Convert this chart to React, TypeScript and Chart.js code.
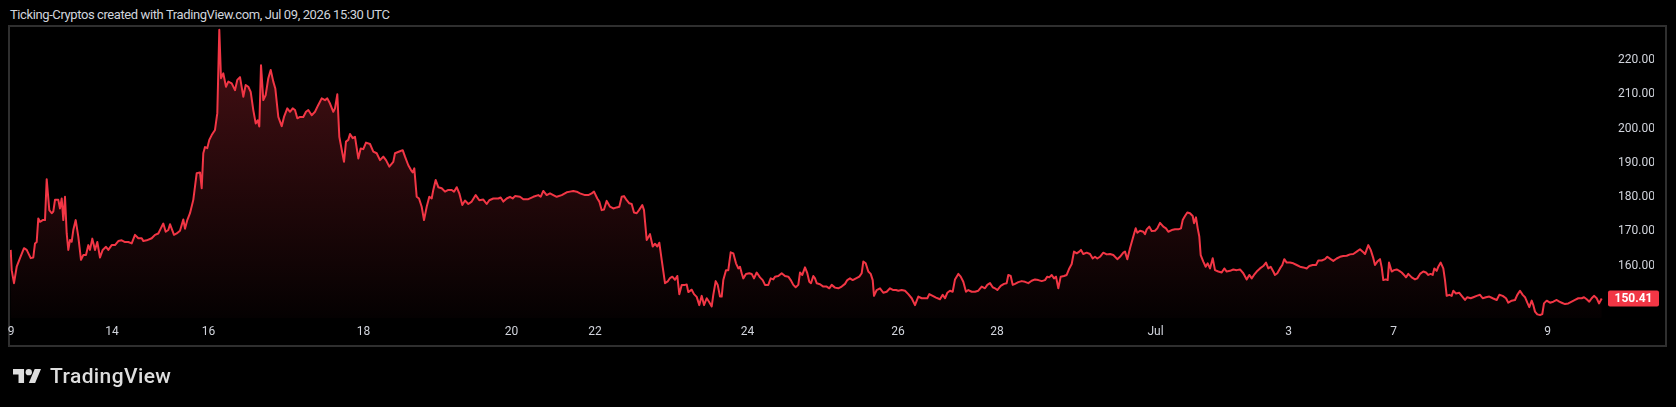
import React, { useEffect, useRef } from "react";
import { Chart, registerables } from "chart.js";

Chart.register(...registerables);

// Bar positions along the session axis and closing prices.
const bars: number[] = [
  // 9 .. 18
  0.7, 1.7, 4, 6.7, 10, 14, 16.7, 20.7, 23.3, 25,
  26.7, 28.3, 30, 32.7, 35, 36.7, 39.3, 41.7, 43.3, 45,
  48.3, 50, 51.7, 53.3, 55, 56.7, 58.3, 60, 61.7, 63.3,
  65.7, 68.3, 71, 73.3, 76, 78.3, 80, 82.3, 85, 87.3,
  90, 92.7, 96, 98.3, 101.7, 105, 108.3, 111.7, 115, 118.3,
  121.7, 125, 128.3, 131.7, 133.3, 136.7, 141.7, 145, 148.3, 150.7,
  153.3, 155.7, 158.3, 160, 164, 166.7, 170, 173.3, 175, 177.3,
  180, 183.3, 186.7, 190, 191.7, 193.3, 195, 197.3, 199.3, 201.7,
  205, 207.3, 209.3, 211, 213.3, 216, 218.3, 221.7, 225, 227.3,
  230, 233.3, 235.7, 238.3, 240.7, 243.3, 245.7, 247.7, 249.3, 251,
  253.3, 255.7, 258.3, 260.7, 263.3, 265.3, 268.3, 271.7, 274, 277.3,
  280, 282.7, 285, 287.3, 290, 293.3, 296, 298.3, 301.7, 305,
  308.3, 311.7, 315, 317.3, 320, 323.3, 325, 327.3, 329.3,
  // 18 .. 24
  334, 336, 338.3, 340, 342.7, 345, 348.3, 350.7, 353.3, 356,
  360, 363.3, 366.7, 370, 373.3, 376, 379.3, 383.3, 385, 389.3,
  392.7, 395, 398.3, 401, 402.7, 404.3, 406.7, 409, 411.7, 414,
  416.7, 419.3, 421.7, 423.3, 425.7, 428.3, 431.7, 435, 438.3, 441.7,
  444, 446.7, 449.3, 452.3, 455, 458.3, 461.7, 465.7, 469.3, 473.3,
  476.7, 479.3, 483.3, 488.3, 490.7, 493.3, 496.7, 500, 502.7, 505,
  510, 513.3, 518.3, 523.3, 528.3, 530.7, 533.3, 536.7, 540, 543.3,
  546.7, 551.7, 556.7, 560, 563.3, 566.7, 570, 575, 578.3, 581.7,
  584, 587.3, 589.3, 591.7, 594, 596.7, 600, 603.3, 606.7, 609.3,
  611.7, 614, 616.7, 619.3, 621.7, 624, 626.7, 629, 632.3, 634,
  636.7, 640, 642.7, 645, 647.3, 649.3, 651.7, 655, 657.7, 660,
  662.3, 665, 667.3, 669.3, 671.7, 675, 676.7, 678.3, 681.7, 684,
  686.7, 689.3,
  // 24 .. Jul
  691.7, 694, 696.7, 699, 701.7, 703.3, 705.7, 707.7, 710, 711.7,
  713.3, 716, 718.3, 720.7, 723.3, 726, 728.3, 730, 731.7, 733.3,
  736, 739.3, 741.7, 744, 746.7, 750, 752.7, 755, 758.3, 760.7,
  763.3, 765, 768.3, 771.7, 775, 778.3, 780.7, 783.3, 785.7, 788.3,
  790, 792.3, 795, 797.3, 799.3, 801, 803.3, 805, 806.7, 810,
  813.3, 816.7, 819.3, 821.7, 825, 828.3, 831.7, 835, 837.3, 840,
  842.7, 846, 849.3, 851.7, 853.3, 855.7, 858.3, 860.7, 862.7, 864,
  866.7, 870, 873.3, 876.7, 880, 883.3, 886, 888.3, 891.7, 895,
  898.3, 901.7, 905, 908.3, 911.7, 915, 917.3, 919.3, 922.7, 926,
  930, 932.7, 935, 937.3, 940, 942.7, 945, 948.3, 950.7, 953.3,
  956, 958.3, 961.7, 965, 968.3, 971.7, 975, 977.3, 980, 982.7,
  985, 987.3, 990.7, 994, 996.7, 998.3, 1000.7, 1002.7, 1005, 1008.3,
  1011.7, 1015, 1018.3, 1021.7, 1025, 1028.3, 1031.7, 1035, 1037.3,
  // Jul .. 7
  1039.3, 1041.7, 1044, 1046, 1048.3, 1050.7, 1054, 1056.7, 1059.3, 1061.7,
  1064, 1066.7, 1069.3, 1071, 1073.3, 1076.7, 1080, 1082.7, 1085, 1087.3,
  1090, 1093.3, 1096.7, 1100, 1103.3, 1107.3, 1110, 1113.3, 1115, 1117.3,
  1120, 1123.3, 1125.7, 1127.3, 1130, 1133.3, 1135, 1136.7, 1139.3, 1141.7,
  1145, 1147.3, 1150, 1153.3, 1156, 1158.3, 1161.7, 1165, 1168.3, 1171,
  1172.7, 1175, 1177.3, 1180, 1182.7, 1184, 1186, 1187.7, 1189.3, 1190.7,
  1193.3, 1195.7, 1197.7, 1200, 1202.7, 1205, 1208.3, 1211.7, 1214.3, 1216.7,
  1220, 1223.3, 1226.7, 1230, 1233.3, 1236.7, 1239.3, 1241.7, 1244, 1246.7,
  1250, 1253.3, 1256, 1258.3, 1260.7, 1263.3, 1265, 1267.3, 1270, 1272.3,
  1274.3, 1276.7, 1280, 1283.3, 1286.7, 1290, 1293.3, 1296.7, 1299.3, 1302.7,
  1306, 1308.3, 1311.7, 1315, 1317.3, 1320.7, 1323.3, 1326.7, 1330, 1333.3,
  1336.7, 1340, 1343.3, 1346.7, 1350, 1352.7, 1355, 1358.3, 1360.7, 1363.3,
  1365, 1367.3, 1370, 1371.7, 1373.3, 1375.7, 1377.7,
  // 7 .. end
  1379, 1381.7, 1384, 1386.7, 1389.3, 1391.7, 1394, 1396, 1398.3, 1401.7,
  1405, 1407.3, 1410, 1413.3, 1416, 1418.3, 1420.7, 1422.7, 1424.3, 1426.7,
  1428.3, 1430.7, 1433.3, 1435, 1436.7, 1439.3, 1441.7, 1443.3, 1446, 1449.3,
  1451.7, 1455, 1457.3, 1460.7, 1463.3, 1466.7, 1470, 1472.7, 1476, 1479.3,
  1482.7, 1486.7, 1489.3, 1492.7, 1496, 1498.3, 1501.7, 1505, 1507.3, 1510,
  1512.7, 1515, 1517.3, 1519.3, 1521.7, 1523.3, 1525, 1527.3, 1530, 1532.3,
  1534, 1536.7, 1540, 1543.3, 1546.7, 1549.3, 1551.7, 1555, 1558.3, 1561.7,
  1565, 1568.3, 1571.7, 1574, 1576.7, 1579.3, 1581.7, 1584, 1586.7, 1589, 1591.7,
];

const prices: number[] = [
  // 9 .. 18
  164.6, 158.7, 154.9, 159.7, 162.2, 165.1, 164.6, 162.2, 162.4, 166.5,
  166.9, 173.8, 172.8, 173.3, 173.3, 185.2, 176.2, 175.3, 175.8, 179.2,
  179.2, 176.7, 179.6, 173.3, 180.1, 169.4, 164.6, 167.5, 167, 170.4,
  173.3, 168.5, 161.7, 163.1, 163.1, 166, 164.6, 167.9, 164.6, 166.9,
  162.4, 164.6, 165.5, 164.6, 166, 166, 167.2, 167.4, 166.9, 166.9,
  166.5, 169, 168, 168, 167.2, 167.4, 168, 169, 169.4, 170.8,
  172.3, 169.9, 170.4, 172.1, 169, 169.4, 170.2, 173.5, 170.8, 173.3,
  175.3, 179.2, 187, 187.2, 182.6, 192.8, 194.6, 194.3, 196.7, 198.1,
  199.6, 204.5, 228.8, 214.7, 216.1, 212.2, 213.7, 213.2, 211.2, 214.2,
  215, 209.3, 212.7, 212.2, 210.7, 205.4, 201.5, 202.4, 200.6, 218.5,
  208.3, 209.8, 214.7, 217.1, 213.7, 211.7, 203.4, 200.7, 203.4, 205.9,
  204.9, 205.9, 205.4, 203, 203.4, 203.4, 204.9, 205.4, 203.9, 204.9,
  206.9, 208.8, 208.3, 208.8, 207.3, 204.9, 205.9, 210, 197.6,
  // 18 .. 24
  190.3, 196.2, 196.7, 198.4, 197.2, 197.6, 191.3, 194.2, 194, 195.9,
  195.5, 193.3, 192.8, 190.8, 191.8, 190.8, 188.9, 190.3, 192.8, 193.3,
  193.7, 191.8, 189.3, 187.9, 187.2, 188.4, 180.1, 179.6, 177.2, 173.3,
  177.2, 180.1, 179.6, 182.1, 185, 182.9, 182.6, 181.6, 182.1, 182.1,
  181.6, 182.9, 181.1, 177.7, 179, 178, 178.7, 180.6, 179.1, 179.3,
  178, 179.1, 179.6, 179.6, 179.9, 178.7, 179.6, 180.1, 179.6, 180.3,
  180.1, 179.4, 179.4, 180.1, 180.6, 180.1, 181.8, 180.6, 181.1, 180.6,
  180.1, 180.6, 181.4, 181.6, 181.8, 181.6, 181.1, 180.6, 180.6, 181.1,
  181.6, 179.6, 178.7, 176.2, 176.4, 178.9, 177.2, 176.7, 177, 177.2,
  180.1, 180.3, 179.1, 178.2, 178, 175.5, 175.3, 176.2, 177.7, 176.2,
  167.5, 169.2, 165.6, 166.4, 165.6, 166.7, 161.7, 154.9, 155.4, 156.4,
  156.8, 155.9, 157, 151.7, 154.4, 154.4, 154.5, 152.3, 153, 151.7,
  150.9, 148.5,
  // 24 .. Jul
  151.2, 148.5, 150.5, 149.5, 148.1, 151.5, 155.5, 154.4, 151, 151,
  155.8, 158.7, 158.7, 163.9, 163.6, 160.7, 159.2, 159.7, 157.8, 156.3,
  157.6, 157.8, 157.6, 156.3, 158, 156.6, 155.8, 154.4, 154.4, 156.3,
  156, 156.8, 157, 157.8, 157, 156.8, 155.8, 154.4, 153.7, 154.4,
  158, 157.3, 159.5, 157.8, 155.3, 154.9, 157, 156.3, 154.9, 154.6,
  153.9, 153.9, 153.4, 154.4, 153.6, 153.4, 153.9, 154.7, 155.8, 156.3,
  155.8, 156.3, 156.8, 157.8, 161.2, 160.7, 158.3, 157.6, 155.8, 151.2,
  152.9, 153.4, 152.1, 152.4, 153.4, 152.9, 152.9, 152.7, 152.9, 152.7,
  151.7, 150.5, 148.5, 151, 150.5, 150.5, 150.5, 151.7, 151.2, 150.7,
  150.2, 151.5, 150.5, 152.1, 152.7, 152.4, 156, 157.6, 156.8, 155.3,
  152.4, 152.9, 152.4, 152.4, 152.7, 153.9, 153.4, 154.4, 154.9, 153.7,
  153.4, 152.9, 154.1, 154.7, 154.9, 157.3, 157, 154.4, 154.7, 155.2,
  155.5, 155.3, 154.9, 155.6, 156, 155.8, 155.5, 155.8, 156.8,
  // Jul .. 7
  156.6, 157.3, 156.3, 156.8, 153.4, 156.8, 157, 157.3, 159.2, 160.5,
  164.1, 163.6, 164.1, 164.6, 163.4, 163.8, 163.4, 162.1, 162.6, 162.1,
  162.6, 163.8, 163.3, 163.4, 163.1, 161.9, 162.6, 163.8, 164.1, 161.9,
  165.1, 168.5, 170.9, 169.6, 170.2, 169.9, 169.2, 170.6, 171.4, 170.1,
  170.2, 170.9, 172.5, 171.4, 170.9, 169.9, 170.4, 170.6, 170.6, 170.9,
  173.3, 174.5, 175.5, 175.3, 174.5, 172.4, 174.1, 170.9, 168.5, 163.1,
  161.2, 159.7, 160.7, 159.2, 162.2, 158.7, 158.3, 158, 159.2, 158.3,
  158.5, 158.9, 158.7, 158.9, 157.8, 156, 157.3, 156.3, 157.3, 158.3,
  159.2, 159.9, 160.9, 159.2, 159.7, 158.3, 157.3, 157.8, 159.2, 160.2,
  161.9, 160.9, 160.9, 160.7, 160.2, 159.7, 159.5, 159.2, 159.9, 160.2,
  160.2, 161.5, 161.5, 161.9, 162.6, 161.9, 161.4, 162.1, 162.6, 162.8,
  162.9, 163.3, 163.4, 164.1, 164.8, 164.1, 163.4, 166, 164.6, 162.2,
  160.2, 161.2, 161.9, 159.5, 155.8, 156, 155.8,
  // 7 .. end
  160.9, 158.3, 158.7, 158.9, 158.5, 158, 157.3, 156.6, 157.6, 156.6,
  156, 156.3, 157.6, 158.3, 158, 157.3, 157.6, 157.3, 159.2, 158.5,
  159.7, 160.9, 159.2, 155.8, 151.2, 151.5, 151.2, 152.7, 151.9, 152.1,
  151.2, 150, 150.8, 150.5, 150.8, 151.2, 151.5, 150.5, 150.8, 151,
  150.5, 150, 151.5, 151.2, 150.5, 149.2, 149.8, 150, 151.5, 152.7,
  151.5, 150.8, 149.2, 147.9, 149.8, 148.5, 146.6, 145.8, 145.6, 145.9,
  149, 149.8, 149.2, 149.5, 150, 149.5, 149.2, 148.8, 149, 149.5,
  150, 150.5, 150.5, 150.8, 150.2, 149.5, 150.5, 151.2, 150.5, 149, 150.41,
];

// Time-scale labels and the bar positions where they sit.
const timeTickBars: number[] = [1, 102, 198.5, 353.5, 501.5, 585, 737.5, 888, 987, 1145.5, 1278.5, 1383.5, 1537.5];
const timeTickLabels: string[] = ["9", "14", "16", "18", "20", "22", "24", "26", "28", "Jul", "3", "7", "9"];

// Price-scale labels.
const priceTicks: number[] = [160, 170, 180, 190, 200, 210, 220];
const priceMin = 144.74;
const priceMax = 229.63;
const barMin = 0;
const barMax = 1597;

const TITLE = "Ticking-Cryptos created with TradingView.com, Jul 09, 2026 15:30 UTC";
const RED = "#f23645";
const LABEL = "#d1d4dc";

export default function App() {
  const ref = useRef<HTMLCanvasElement | null>(null);

  useEffect(() => {
    document.body.style.margin = "0";
    document.body.style.background = "#000";
    const canvas = ref.current;
    if (!canvas) return;
    const last = prices[prices.length - 1];

    const badge = {
      id: "lastBadge",
      afterDraw(chart: any) {
        const { ctx, chartArea, scales } = chart;
        const y = scales.y.getPixelForValue(last);
        const left = chartArea.right + 1;
        const w = 51;
        const h = 16;
        ctx.save();
        ctx.fillStyle = RED;
        ctx.beginPath();
        if (ctx.roundRect) ctx.roundRect(left, y - h / 2, w, h, 2);
        else ctx.rect(left, y - h / 2, w, h);
        ctx.fill();
        ctx.fillStyle = "#ffffff";
        ctx.font = "bold 12px Roboto";
        ctx.textAlign = "center";
        ctx.textBaseline = "middle";
        ctx.fillText(last.toFixed(2), left + w / 2, y + 0.5);
        ctx.restore();
      },
    };

    const chart = new Chart(canvas, {
      type: "line",
      data: {
        datasets: [
          {
            data: bars.map((b, i) => ({ x: b, y: prices[i] })),
            borderColor: RED,
            borderWidth: 2,
            borderJoinStyle: "round",
            pointRadius: 0,
            tension: 0,
            fill: "start",
            backgroundColor: (c: any) => {
              const { ctx, chartArea } = c.chart;
              if (!chartArea) return "rgba(242,54,69,0.1)";
              const g = ctx.createLinearGradient(0, chartArea.top, 0, chartArea.bottom);
              g.addColorStop(0, "rgba(242,54,69,0.30)");
              g.addColorStop(1, "rgba(242,54,69,0.02)");
              return g;
            },
          } as any,
        ],
      },
      options: {
        animation: false,
        responsive: false,
        maintainAspectRatio: false,
        events: [],
        layout: { padding: { left: 10, top: 27, right: 22, bottom: 61 } },
        plugins: {
          legend: { display: false },
          tooltip: { enabled: false },
        },
        scales: {
          x: {
            type: "linear",
            min: barMin,
            max: barMax,
            grid: { display: false, drawTicks: false },
            border: { display: false },
            afterBuildTicks: (s: any) => {
              s.ticks = timeTickBars.map((v) => ({ value: v }));
            },
            afterFit: (s: any) => {
              s.height = 28;
            },
            ticks: {
              autoSkip: false,
              maxRotation: 0,
              padding: 7,
              color: LABEL,
              font: { family: "Roboto", size: 12 },
              callback: (_v: any, i: number) => timeTickLabels[i],
            },
          },
          y: {
            position: "right",
            min: priceMin,
            max: priceMax,
            grid: { display: false, drawTicks: false },
            border: { display: false },
            afterBuildTicks: (s: any) => {
              s.ticks = priceTicks.map((v) => ({ value: v }));
            },
            afterFit: (s: any) => {
              s.width = 47;
            },
            ticks: {
              padding: 11,
              color: LABEL,
              font: { family: "Roboto", size: 12 },
              callback: (v: any) => Number(v).toFixed(2),
            },
          },
        },
      } as any,
      plugins: [badge],
    });

    return () => chart.destroy();
  }, []);

  return (
    <div
      style={{
        position: "fixed",
        left: 0,
        top: 0,
        width: 1676,
        height: 407,
        background: "#000",
        overflow: "hidden",
      }}
    >
      <div
        style={{
          position: "absolute",
          left: 10,
          top: 7,
          fontFamily: "Roboto, sans-serif",
          fontSize: 13,
          letterSpacing: "-0.4px",
          lineHeight: "16px",
          color: LABEL,
          whiteSpace: "nowrap",
        }}
      >
        {TITLE}
      </div>
      <div
        style={{
          position: "absolute",
          left: 8,
          top: 25,
          width: 1655,
          height: 318,
          border: "2px solid #2f2f2f",
        }}
      />
      <canvas
        ref={ref}
        width={1676}
        height={407}
        style={{ position: "absolute", left: 0, top: 0, width: 1676, height: 407 }}
      />
      <svg
        style={{ position: "absolute", left: 13, top: 369 }}
        width={28}
        height={14.2}
        viewBox="0 4 35.5 18"
      >
        <path d="M14 22H7V11H0V4h14v18zM28 22h-8l7.5-18h8L28 22z" fill="#dedede" />
        <circle cx={20} cy={8} r={4} fill="#dedede" />
      </svg>
      <div
        style={{
          position: "absolute",
          left: 50,
          top: 366,
          fontFamily: "Roboto, sans-serif",
          fontWeight: 500,
          fontSize: 21,
          lineHeight: "20px",
          letterSpacing: "0.4px",
          color: "#dedede",
          whiteSpace: "nowrap",
        }}
      >
        TradingView
      </div>
    </div>
  );
}
